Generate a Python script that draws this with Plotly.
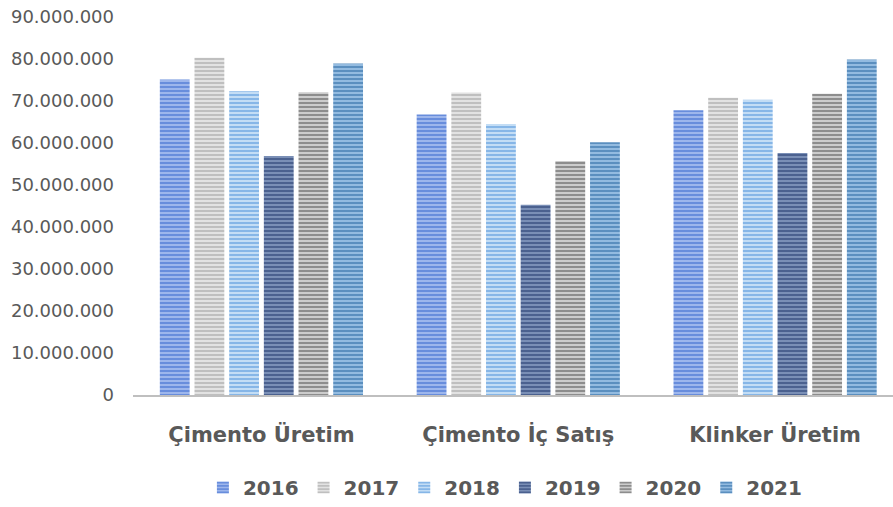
import plotly.graph_objects as go

# Categories and yearly values (tonnes)
categories = ["Çimento Üretim", "Çimento İç Satış", "Klinker Üretim"]
years = ["2016", "2017", "2018", "2019", "2020", "2021"]
values = {
    "2016": [75_100_000, 66_800_000, 67_800_000],
    "2017": [80_300_000, 72_000_000, 70_800_000],
    "2018": [72_300_000, 64_500_000, 70_300_000],
    "2019": [56_900_000, 45_300_000, 57_600_000],
    "2020": [72_100_000, 55_700_000, 71_700_000],
    "2021": [78_900_000, 60_200_000, 79_900_000],
}

# Stripe colour (fg) and background colour for each year
stripe_fg = ["#3464CC", "#9C9C9C", "#4A90D9", "#1B3468", "#4D4D4D", "#24639E"]
stripe_bg = ["#9DB6EC", "#E2E2E2", "#C3DDF5", "#7A8FB6", "#CCCCCC", "#93BBE0"]

fig = go.Figure()
for i, y in enumerate(years):
    fig.add_trace(go.Bar(
        name=y,
        x=categories,
        y=values[y],
        marker=dict(
            color=stripe_bg[i],
            line=dict(width=0),
            pattern=dict(shape="-", fgcolor=stripe_fg[i], bgcolor=stripe_bg[i],
                         size=4, solidity=0.5, fillmode="overlay"),
        ),
    ))

fig.update_layout(
    width=893, height=507,
    margin=dict(l=133, r=0, t=17, b=110),
    paper_bgcolor="white", plot_bgcolor="white",
    barmode="group", bargap=0.19, bargroupgap=0.14,
    separators=",.",
    font=dict(family="DejaVu Sans, sans-serif", color="#595959"),
    showlegend=True,
    legend=dict(orientation="h", x=0.49, xanchor="center", y=-0.245, yanchor="middle",
                font=dict(size=20, color="#595959", family="DejaVu Sans, sans-serif", weight="bold"),
                itemwidth=30, traceorder="normal", tracegroupgap=0),
    xaxis=dict(
        range=[-0.5, 2.459], showgrid=False, showline=True, linecolor="#BFBFBF", linewidth=2,
        ticks="", ticklabelstandoff=20,
        tickfont=dict(size=21, color="#595959", family="DejaVu Sans, sans-serif", weight="bold"),
    ),
    yaxis=dict(
        range=[0, 90_000_000], dtick=10_000_000, tickformat=",d", showgrid=False,
        zeroline=False, showline=False, ticks="", ticklabelstandoff=18,
        tickfont=dict(size=18, color="#595959", family="DejaVu Sans, sans-serif"),
    ),
)

fig.write_html("out.html")
